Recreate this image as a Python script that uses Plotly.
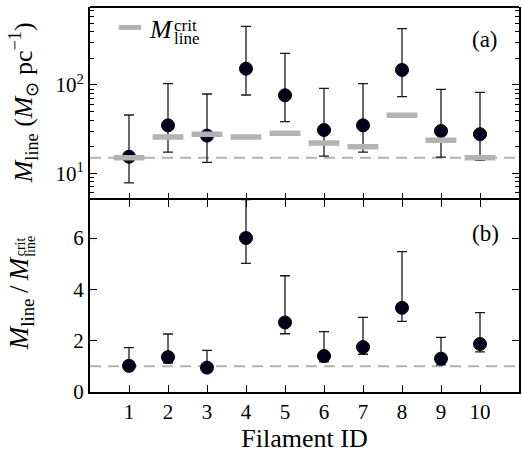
import plotly.graph_objects as go

# ---------------- data ----------------
filament_id = [1, 2, 3, 4, 5, 6, 7, 8, 9, 10]

# panel (a): line mass (Msun/pc)
mline = [15.4, 34.9, 26.7, 153, 76.4, 30.9, 34.9, 148, 30.1, 27.7]
mline_hi = [45.7, 103.5, 79, 462, 228, 91.6, 103.5, 434, 89.3, 82.6]
mline_lo = [7.8, 17.4, 13.3, 77, 38.5, 15.6, 17.4, 73.8, 15.2, 14.0]
mline_crit = [15.0, 25.8, 27.7, 25.8, 28.4, 22.0, 20.0, 45.4, 23.7, 15.0]
crit_ref = 15.0

# panel (b): ratio Mline / Mline_crit (upper bound of #4 runs off the axis)
ratio = [1.02, 1.36, 0.95, 6.0, 2.71, 1.40, 1.75, 3.28, 1.30, 1.87]
ratio_hi = [1.73, 2.26, 1.62, 7.5, 4.53, 2.35, 2.91, 5.47, 2.13, 3.09]
ratio_lo = [0.85, 1.13, 0.80, 5.01, 2.27, 1.17, 1.47, 2.75, 1.06, 1.56]
ratio_ref = 1.0

x_ticks = [1, 2, 3, 4, 5, 6, 7, 8, 9, 10]
ytop_ticks = [10, 100]
ytop_ticktext = ["10<sup>1</sup>", "10<sup>2</sup>"]
ytop_minor = [6, 7, 8, 9, 20, 30, 40, 50, 60, 70, 80, 90, 200, 300, 400, 500, 600, 700]
ybot_ticks = [0, 2, 4, 6]

# ---------------- style ----------------
FONT = "Liberation Serif, Times New Roman, serif"
W, H = 522, 454
ML, MR, MT, MB = 90, 1, 7, 62
PW, PH = W - ML - MR, H - MT - MB
DOT = "#00001a"
ERR = "#1a1a1a"
GREY = "#b3b3b3"


def px_x(px):
    return (px - ML) / PW


def px_y(py):
    return (H - MB - py) / PH


fig = go.Figure()

err_top_plus = [h - v for h, v in zip(mline_hi, mline)]
err_top_minus = [v - l for v, l in zip(mline, mline_lo)]
err_bot_plus = [h - v for h, v in zip(ratio_hi, ratio)]
err_bot_minus = [v - l for v, l in zip(ratio, ratio_lo)]

fig.add_trace(go.Scatter(
    x=filament_id, y=mline, mode="markers", xaxis="x", yaxis="y",
    marker=dict(size=13, color=DOT, line=dict(width=1, color="black")),
    error_y=dict(type="data", symmetric=False, array=err_top_plus,
                 arrayminus=err_top_minus, color=ERR, thickness=1.3, width=5),
    showlegend=False))

fig.add_trace(go.Scatter(
    x=filament_id, y=mline_crit, mode="markers", xaxis="x", yaxis="y",
    marker=dict(symbol="line-ew", size=22, line=dict(width=5.5, color=GREY)),
    name="<i>M</i>", showlegend=True))

fig.add_trace(go.Scatter(
    x=filament_id, y=ratio, mode="markers", xaxis="x2", yaxis="y2",
    marker=dict(size=13, color=DOT, line=dict(width=1, color="black")),
    error_y=dict(type="data", symmetric=False, array=err_bot_plus,
                 arrayminus=err_bot_minus, color=ERR, thickness=1.3, width=5),
    showlegend=False))

shapes = [
    dict(type="line", xref="x domain", yref="y", x0=0, x1=1, y0=crit_ref, y1=crit_ref,
         line=dict(color=GREY, width=2, dash="11px,7px"), layer="below"),
    dict(type="line", xref="x2 domain", yref="y2", x0=0, x1=1, y0=ratio_ref, y1=ratio_ref,
         line=dict(color=GREY, width=2, dash="11px,7px"), layer="below"),
    # top edge of the upper frame
    dict(type="line", xref="x domain", yref="y domain", x0=0, x1=1, y0=1, y1=1,
         line=dict(color="black", width=2), layer="above"),
]

axis_common = dict(showline=True, linewidth=2, linecolor="black", ticks="inside",
                   ticklen=7, tickwidth=1, tickcolor="black", showgrid=False,
                   zeroline=False, tickfont=dict(family=FONT, size=21, color="black"))


def ann(text, x, y, size, xa="center", ya="middle", angle=0):
    return dict(text=text, xref="paper", yref="paper", x=px_x(x), y=px_y(y),
                xanchor=xa, yanchor=ya, textangle=angle, showarrow=False,
                font=dict(family=FONT, size=size, color="black"))


annotations = [
    ann("(a)", 487, 39, 23),
    ann("(b)", 487, 233, 23),
    # legend label scripts
    ann("crit", 172, 25.5, 17, xa="left"),
    ann("line", 172, 38.5, 17, xa="left"),
    # top y title
    ann("<i>M</i><sub>line</sub> (<i>M</i><sub>⊙</sub> pc<sup>−1</sup>)", 23, 103, 26, angle=-90),
    # bottom y title (main text + stacked scripts)
    ann("<i>M</i><sub>line</sub>\u2009/\u2009<i>M</i>", 21, 303, 27, angle=-90),
    ann("crit", 20.5, 246.5, 14, angle=-90),
    ann("line", 29.5, 246, 14, angle=-90),
]

fig.update_layout(
    width=W, height=H,
    margin=dict(l=ML, r=MR, t=MT, b=MB),
    paper_bgcolor="white", plot_bgcolor="white",
    font=dict(family=FONT, color="black"),
    xaxis=dict(axis_common, domain=[0, 1], anchor="y", range=[0, 11],
               tickvals=x_ticks, showticklabels=False, showline=False, mirror=False),
    yaxis=dict(axis_common, domain=[0.5, 1], anchor="x", type="log",
               range=[0.703, 2.883], tickvals=ytop_ticks, ticktext=ytop_ticktext,
               mirror="ticks",
               minor=dict(ticks="inside", ticklen=4, tickcolor="black",
                          tickvals=ytop_minor, showgrid=False)),
    xaxis2=dict(axis_common, domain=[0, 1], anchor="y2", range=[0, 11],
                tickvals=x_ticks, mirror="ticks",
                title=dict(text="Filament ID", font=dict(family=FONT, size=26, color="black"),
                           standoff=5)),
    yaxis2=dict(axis_common, domain=[0, 0.5], anchor="x2", range=[0, 7.5],
                tickvals=ybot_ticks, mirror="ticks"),
    showlegend=True,
    legend=dict(x=px_x(110), y=px_y(4), xanchor="left", yanchor="top",
                bgcolor="rgba(0,0,0,0)", borderwidth=0,
                font=dict(family=FONT, size=26, color="black")),
    shapes=shapes,
    annotations=annotations,
)

fig.write_html("out.html")
